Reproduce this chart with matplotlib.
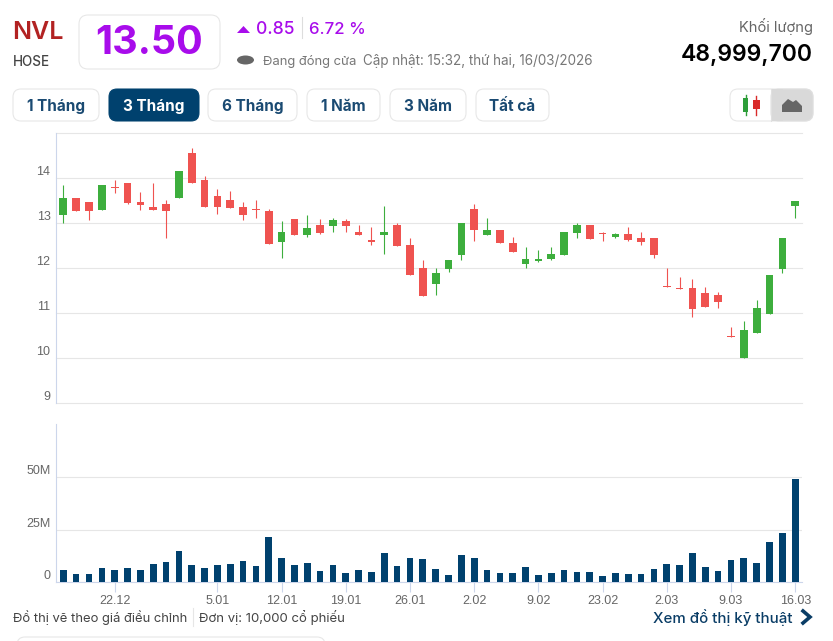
import matplotlib
matplotlib.use("Agg")
import matplotlib.pyplot as plt
from matplotlib.patches import FancyBboxPatch, Polygon, Ellipse, Rectangle

# ---------- data ----------
opens = [13.19,13.56,13.47,13.30,13.80,13.90,13.47,13.36,13.42,13.55,14.56,13.96,13.61,13.52,13.36,13.32,13.27,12.59,13.10,12.74,
         12.95,12.94,13.05,12.81,12.615,12.74,12.95,12.52,12.00,11.64,11.98,12.30,13.32,12.74,12.85,12.56,12.10,12.15,12.20,12.30,
         12.79,12.95,12.77,12.69,12.76,12.66,12.66,11.60,11.55,11.56,11.45,11.40,10.49,10.00,10.57,10.98,11.98,13.38]
closes = [13.56,13.26,13.26,13.85,13.785,13.45,13.40,13.30,13.26,14.15,13.90,13.36,13.36,13.34,13.185,13.30,12.54,12.80,12.74,12.90,
          12.785,13.06,12.94,12.74,12.585,12.81,12.50,11.84,11.39,11.90,12.17,13.00,12.84,12.85,12.55,12.35,12.21,12.21,12.31,12.81,
          12.95,12.64,12.755,12.76,12.63,12.59,12.30,11.59,11.53,11.10,11.14,11.24,10.47,10.63,11.11,11.85,12.66,13.50]
highs = [13.85,13.56,13.47,13.85,13.96,13.90,13.70,13.90,13.52,14.15,14.67,14.04,13.76,13.71,13.46,13.52,13.31,13.05,13.10,13.19,
         13.10,13.11,13.10,12.95,12.91,13.37,13.00,12.67,12.17,12.00,12.17,13.00,13.42,13.11,12.85,12.70,12.46,12.41,12.47,12.81,
         13.00,12.95,12.80,12.79,12.91,12.80,12.66,12.00,11.80,11.75,11.59,11.46,10.70,10.82,11.30,11.85,12.66,13.50]
lows = [13.00,13.26,13.06,13.28,13.67,13.43,13.28,13.30,12.67,13.55,13.90,13.36,13.20,13.33,13.06,13.11,12.53,12.22,12.74,12.70,
        12.76,12.81,12.81,12.74,12.52,12.32,12.50,11.84,11.39,11.41,11.91,12.17,12.61,12.74,12.55,12.35,12.00,12.13,12.185,12.30,
        12.67,12.64,12.61,12.66,12.61,12.52,12.22,11.59,11.53,10.92,11.13,11.12,10.47,10.00,10.57,10.98,11.90,13.11]
volumes = [5.9,3.8,3.8,6.8,5.9,6.8,5.9,8.4,9.5,14.8,8.0,6.8,8.0,8.4,10.0,7.5,21.7,11.6,8.0,9.1,
           5.4,8.0,4.3,5.9,4.8,13.7,7.5,11.6,11.1,6.4,3.2,12.7,11.6,5.9,4.3,4.3,7.0,3.2,4.3,5.9,
           4.8,4.8,2.7,4.3,3.8,3.8,6.4,8.6,8.0,13.9,7.0,5.4,10.7,11.6,9.1,19.1,23.2,49.0]
tick_idx = [4,12,17,22,27,32,37,42,47,52,57]
tick_labels = ["22.12","5.01","12.01","19.01","26.01","2.02","9.02","23.02","2.03","9.03","16.03"]
price_ticks = [9,10,11,12,13,14]
vol_ticks = [0,25,50]
vol_tick_labels = ["0","25M","50M"]

UP, DOWN = "#3DAE3D", "#EF5350"
NAVY, AXC, GRID, TICKC = "#00416E", "#CCD6EB", "#E6E6E6", "#666666"

W, H = 833, 641
fig = plt.figure(figsize=(W/100, H/100), dpi=100, facecolor="white")
plt.rcParams["font.family"] = ["Inter", "DejaVu Sans"]

def rect(l, t, r, b):
    return [l/W, 1-b/H, (r-l)/W, (b-t)/H]

ov = fig.add_axes([0, 0, 1, 1], zorder=0)
ov.set_xlim(0, W); ov.set_ylim(H, 0); ov.axis("off")

def txt(x, y, s, px, color, weight="normal", ha="left", family="Inter"):
    # y is the text baseline in pixels from the top
    ov.text(x, y, s, fontsize=px*0.72, color=color, fontweight=weight, ha=ha, va="baseline", family=family)

def box(l, t, r, b, fc="white", ec="#E6E6E6", rad=8):
    ov.add_patch(FancyBboxPatch((l+rad, t+rad), r-l-2*rad, b-t-2*rad,
                                boxstyle=f"round,pad={rad},rounding_size={rad}", fc=fc, ec=ec, lw=0.75))

PURPLE = "#A80CEB"
# header
txt(12.5, 39, "NVL", 25, "#B22222", "semibold")
txt(13, 66, "HOSE", 13.4, "#444444", "medium")
box(79, 15, 220, 69, rad=9)
txt(149.5, 54, "13.50", 39.5, PURPLE, "bold", ha="center")
ov.add_patch(Polygon([[237, 33], [250, 33], [243.5, 26]], fc=PURPLE, ec="none"))
txt(256, 34, "0.85", 17.5, PURPLE, "medium")
ov.plot([302, 302], [17, 38], color="#DDDDDD", lw=0.8)
txt(309, 34, "6.72 %", 16.8, PURPLE, "medium")
ov.add_patch(Ellipse((245.5, 60), 17, 9, fc="#666666", ec="none"))
txt(263, 65, "Đang đóng cửa", 13, "#777777")
txt(363, 65, "Cập nhật: 15:32, thứ hai, 16/03/2026", 13.45, "#777777")
txt(813, 32, "Khối lượng", 14.7, "#666666", ha="right")
txt(813, 61, "48,999,700", 23, "#000000", "semibold", ha="right")

# range buttons
btn_labels = ["1 Tháng", "3 Tháng", "6 Tháng", "1 Năm", "3 Năm", "Tất cả"]
btn_edges = [(13, 99), (109, 199), (208, 297), (307, 380), (390, 466), (476, 549)]
for i, (lab, (l, r)) in enumerate(zip(btn_labels, btn_edges)):
    active = i == 1
    box(l, 89, r, 121, fc=NAVY if active else "white", ec=NAVY if active else "#E6E6E6", rad=8)
    txt((l+r)/2, 111, lab, 15.3, "white" if active else "#1A4A72", "bold", ha="center")

# chart type toggle
box(730, 89, 813, 121, rad=8)
ov.add_patch(FancyBboxPatch((779, 97), 26, 16, boxstyle="round,pad=8,rounding_size=8", fc="#D9D9D9", ec="#E0E0E0", lw=0.75))
ov.add_patch(Rectangle((771, 89), 12, 32, fc="#D9D9D9", ec="none"))
ov.plot([771, 771], [89, 121], color="#E0E0E0", lw=0.75)
ov.plot([746, 746], [95, 115], color="#2E9E3A", lw=1)
ov.add_patch(Rectangle((743.5, 98), 5, 14, fc="#2E9E3A", ec="none"))
ov.plot([756.5, 756.5], [96, 115], color="#D92B2B", lw=1)
ov.add_patch(Rectangle((753, 100), 7, 9, fc="#D92B2B", ec="none"))
ov.add_patch(Polygon([[782, 112], [782, 105], [788, 99], [793, 102], [796, 100], [802, 106], [802, 112]], fc="#666666", ec="none"))

# footer
txt(13, 622, "Đồ thị vẽ theo giá điều chỉnh", 13, "#444444")
ov.plot([193, 193], [608, 626], color="#E6E6E6", lw=0.8)
txt(199, 622, "Đơn vị: 10,000 cổ phiếu", 13.15, "#444444")
txt(653, 623, "Xem đồ thị kỹ thuật", 15, "#0A3D66", "medium")
ov.plot([803, 810, 803], [611, 617, 623], color="#0A3D66", lw=2.6, solid_joinstyle="miter")
ov.add_patch(FancyBboxPatch((25, 645), 292, 20, boxstyle="round,pad=8,rounding_size=8", fc="white", ec="#E6E6E6", lw=0.75))

# ---------- price panel ----------
n = len(closes)
x = list(range(n))
xlim = (-0.57, 57.53)
ax = fig.add_axes(rect(56, 133, 802, 403.3), zorder=1)
ax.patch.set_alpha(0)
ax.set_xlim(xlim); ax.set_ylim(9, 15)
colors = [UP if c >= o else DOWN for o, c in zip(opens, closes)]
ax.vlines(x, lows, highs, colors=colors, lw=0.8, zorder=3)
ax.bar(x, [abs(c-o) for o, c in zip(opens, closes)], bottom=[min(o, c) for o, c in zip(opens, closes)],
       width=0.6, color=colors, lw=0, zorder=4)
ax.set_yticks(price_ticks + [15]); ax.set_yticklabels([str(t) for t in price_ticks] + [""])
ax.set_xticks([])
ax.grid(axis="y", color=GRID, lw=0.8, zorder=0)
for g in ax.get_ygridlines():
    g.set_clip_on(False)
ax.tick_params(axis="y", length=0, pad=4, labelsize=9, labelcolor=TICKC)
for t in ax.get_yticklabels():
    t.set_verticalalignment("bottom"); t.set_family("Liberation Sans")
for s in ("top", "right", "bottom"):
    ax.spines[s].set_visible(False)
ax.spines["left"].set_color(AXC)

# ---------- volume panel ----------
av = fig.add_axes(rect(56, 424, 802, 582), zorder=1)
av.patch.set_alpha(0)
av.set_xlim(xlim); av.set_ylim(0, 75.5)
av.bar(x, volumes, width=0.52, color=NAVY, lw=0, zorder=3)
av.set_yticks(vol_ticks); av.set_yticklabels(vol_tick_labels)
av.set_xticks(tick_idx); av.set_xticklabels(tick_labels)
av.grid(axis="y", color=GRID, lw=0.8, zorder=0)
av.tick_params(axis="y", length=0, pad=4, labelsize=9, labelcolor=TICKC)
av.tick_params(axis="x", length=7.2, width=0.8, color=AXC, pad=2, labelsize=9, labelcolor=TICKC)
for t in av.get_yticklabels():
    t.set_verticalalignment("bottom"); t.set_family("Liberation Sans")
for t in av.get_xticklabels():
    t.set_family("Liberation Sans")
for s in ("top", "right"):
    av.spines[s].set_visible(False)
av.spines["left"].set_color(AXC)
av.spines["bottom"].set_color(AXC)

fig.savefig("out.png", dpi=100)
